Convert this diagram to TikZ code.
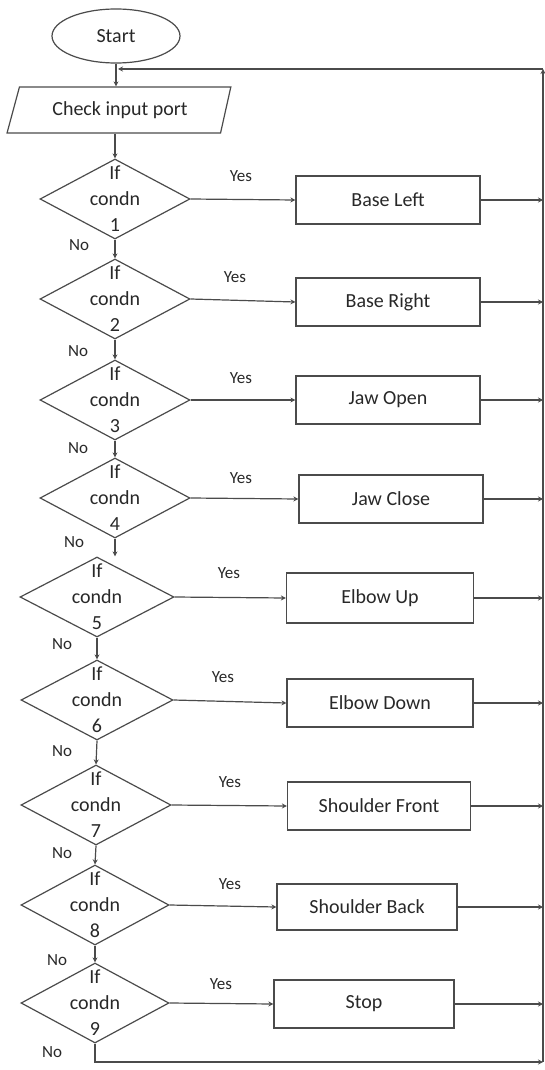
\documentclass[tikz,border=0pt]{standalone}
\usepackage{fontspec}
\setmainfont{Carlito}
\usetikzlibrary{shapes.geometric,arrows.meta}
\definecolor{ln}{RGB}{75,75,75}
\definecolor{tx}{RGB}{40,40,40}
\begin{document}
\begin{tikzpicture}[x=1pt,y=-1pt,
  every node/.style={text=tx, font=\fontsize{20}{26}\selectfont},
  base/.style={draw=ln, line width=1.2pt},
  cond/.style={base, diamond, minimum width=150, minimum height=80, inner sep=0pt},
  condtxt/.style={align=center, inner sep=0pt},
  act/.style={base, rectangle, minimum width=184, minimum height=48, inner sep=0pt},
  lab/.style={font=\fontsize{17}{20}\selectfont, inner sep=0pt},
  arr/.style={draw=ln, line width=1.2pt, -{Stealth[length=5pt,width=5pt]}}
]
\useasboundingbox (0,0) rectangle (545,1070);

% start and input
\node[base, ellipse, minimum width=128, minimum height=54, inner sep=0pt] (st) at (116,36) {Start};
\node[base, trapezium, trapezium left angle=64, trapezium right angle=112,
      trapezium stretches=true, minimum width=224, minimum height=46, inner sep=0pt] (chk) at (120,110) {Check input port};

% decisions
\node[cond] (d1) at (115,199) {};
\node[cond] (d2) at (115,299) {};
\node[cond] (d3) at (115,400) {};
\node[cond] (d4) at (115,498) {};
\node[cond, minimum width=154] (d5) at (97,597) {};
\node[cond, minimum width=152] (d6) at (97,700) {};
\node[cond, minimum width=150] (d7) at (96,805) {};
\node[cond, minimum width=148] (d8) at (95,905) {};
\node[cond, minimum width=148] (d9) at (95,1003) {};

\node[condtxt] (t1) at (d1) {If\\condn\\1};
\node[condtxt] (t2) at (d2) {If\\condn\\2};
\node[condtxt] (t3) at (d3) {If\\condn\\3};
\node[condtxt] (t4) at (d4) {If\\condn\\4};
\node[condtxt] (t5) at (d5) {If\\condn\\5};
\node[condtxt] (t6) at (d6) {If\\condn\\6};
\node[condtxt] (t7) at (d7) {If\\condn\\7};
\node[condtxt] (t8) at (d8) {If\\condn\\8};
\node[condtxt] (t9) at (d9) {If\\condn\\9};

% actions
\node[act] (b1) at (388,200) {Base Left};
\node[act] (b2) at (388,302) {Base Right};
\node[act] (b3) at (388,400) {Jaw Open};
\node[act] (b4) at (391,499) {Jaw Close};
\node[act, minimum width=187, minimum height=50] (b5) at (380,598) {Elbow Up};
\node[act, minimum width=186] (b6) at (380,703) {Elbow Down};
\node[act, minimum width=183] (b7) at (379,806) {Shoulder Front};
\node[act, minimum width=180, minimum height=46] (b8) at (367,907) {Shoulder Back};
\node[act, minimum width=180] (b9) at (364,1004) {Stop};

% loop coordinates
\coordinate (rt) at (543,69);
\coordinate (rb) at (543,1062);
\coordinate (jn) at (118,69);

% labels
\node[lab] (y1) at (241,176) {Yes};
\node[lab] (y2) at (235,277) {Yes};
\node[lab] (y3) at (241,378) {Yes};
\node[lab] (y4) at (241,478) {Yes};
\node[lab] (y5) at (229,573) {Yes};
\node[lab] (y6) at (223,677) {Yes};
\node[lab] (y7) at (230,782) {Yes};
\node[lab] (y8) at (230,884) {Yes};
\node[lab] (y9) at (221,984) {Yes};

\node[lab] (n1) at (79,245) {No};
\node[lab] (n2) at (78,351) {No};
\node[lab] (n3) at (78,448) {No};
\node[lab] (n4) at (74,542) {No};
\node[lab] (n5) at (62,644) {No};
\node[lab] (n6) at (62,751) {No};
\node[lab] (n7) at (62,853) {No};
\node[lab] (n8) at (57,960) {No};
\node[lab] (n9) at (52,1052) {No};

% vertical flow
\draw[arr] (st.south) -- (st.south |- chk.north);
\draw[arr] (chk.south -| d1.north) -- (d1.north);
\draw[arr] (d1.south) -- (d2.north);
\draw[arr] (d2.south) -- (d3.north);
\draw[arr] (d3.south) -- (d4.north);
\draw[arr] (d4.south) -- (d4.south |- d5.north);
\draw[arr] (d5.south) -- (d6.north);
\draw[arr] (d6.south) -- (d7.north);
\draw[arr] (d7.south) -- (d8.north);
\draw[arr] (d8.south) -- (d9.north);

% yes branches
\draw[arr] (d1.east) -- (b1.west);
\draw[arr] (d2.east) -- (b2.west);
\draw[arr] (d3.east) -- (b3.west);
\draw[arr] (d4.east) -- (b4.west);
\draw[arr] (d5.east) -- (b5.west);
\draw[arr] (d6.east) -- (b6.west);
\draw[arr] (d7.east) -- (b7.west);
\draw[arr] (d8.east) -- (b8.west);
\draw[arr] (d9.east) -- (b9.west);

% to return line
\draw[arr] (b1.east) -- (b1.east -| rt);
\draw[arr] (b2.east) -- (b2.east -| rt);
\draw[arr] (b3.east) -- (b3.east -| rt);
\draw[arr] (b4.east) -- (b4.east -| rt);
\draw[arr] (b5.east) -- (b5.east -| rt);
\draw[arr] (b6.east) -- (b6.east -| rt);
\draw[arr] (b7.east) -- (b7.east -| rt);
\draw[arr] (b8.east) -- (b8.east -| rt);
\draw[arr] (b9.east) -- (b9.east -| rt);

% loop back
\draw[arr] (d9.south) |- (rb);
\draw[arr] (rb) -- (rt);
\draw[arr] (rt) -- (jn);
\end{tikzpicture}
\end{document}
